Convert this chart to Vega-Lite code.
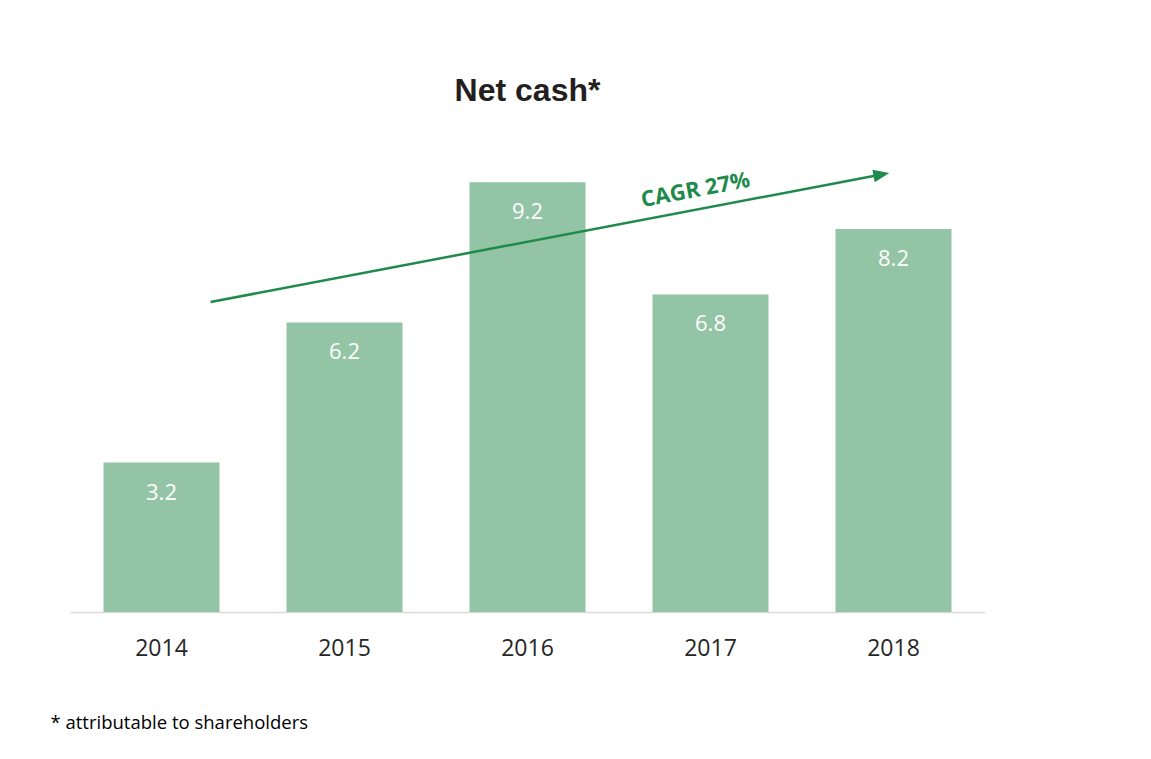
{
  "$schema": "https://vega.github.io/schema/vega-lite/v6.json",
  "autosize": "none",
  "width": 915,
  "height": 467,
  "padding": {"left": 70, "top": 145, "right": 166, "bottom": 147},
  "background": "white",
  "config": {"view": {"stroke": null}},
  "title": {
    "text": "Net cash*",
    "font": "Liberation Sans",
    "fontSize": 32,
    "fontWeight": "bold",
    "color": "#231f20",
    "anchor": "middle",
    "baseline": "alphabetic",
    "offset": 12
  },
  "datasets": {
    "bars": [
      {"year": "2014", "value": 3.2},
      {"year": "2015", "value": 6.2},
      {"year": "2016", "value": 9.2},
      {"year": "2017", "value": 6.8},
      {"year": "2018", "value": 8.2}
    ],
    "arrow": [
      {"px": 2014.268, "py": 6.638},
      {"px": 2017.934, "py": 9.368}
    ],
    "head": [{"px": 2017.934, "py": 9.368}],
    "label": [{"px": 2016.918, "py": 9.036, "text": "CAGR 27%"}]
  },
  "layer": [
    {
      "data": {"name": "bars"},
      "encoding": {
        "x": {
          "field": "year",
          "type": "ordinal",
          "scale": {"paddingInner": 0.366, "paddingOuter": 0.183},
          "axis": {
            "title": "* attributable to shareholders",
            "titleFont": "Open Sans",
            "titleFontSize": 18.5,
            "titleFontWeight": "normal",
            "titleColor": "#000000",
            "titleAnchor": "start",
            "titleAlign": "left",
            "titleBaseline": "middle",
            "titleX": -20,
            "titleY": 110,
            "labelFont": "Open Sans",
            "labelFontSize": 23,
            "labelColor": "#262626",
            "labelAngle": 0,
            "labelPadding": 25,
            "ticks": false,
            "domainColor": "#d9d9d9",
            "domainWidth": 1.5
          }
        },
        "y": {
          "field": "value",
          "type": "quantitative",
          "scale": {"domain": [0, 10], "nice": false},
          "axis": null
        }
      },
      "layer": [
        {"mark": {"type": "bar", "color": "#93c4a5"}},
        {
          "mark": {"type": "text", "color": "white", "font": "Open Sans", "fontSize": 22, "baseline": "middle", "dy": 30},
          "encoding": {"text": {"field": "value", "type": "quantitative", "format": ".1f"}}
        }
      ]
    },
    {
      "encoding": {
        "x": {"field": "px", "type": "quantitative", "scale": {"domain": [2013.5, 2018.5], "nice": false, "zero": false}, "axis": null},
        "y": {"field": "py", "type": "quantitative", "scale": {"domain": [0, 10], "nice": false}, "axis": null}
      },
      "layer": [
        {"data": {"name": "arrow"}, "mark": {"type": "line", "color": "#1e8a4b", "strokeWidth": 2.5}},
        {"data": {"name": "head"}, "mark": {"type": "point", "shape": "M1,0 L-1,-0.8 L-1,0.8 Z", "filled": true, "color": "#1e8a4b", "opacity": 1, "size": 256, "angle": -10.75}},
        {
          "data": {"name": "label"},
          "mark": {"type": "text", "color": "#1e8a4b", "font": "Open Sans", "fontWeight": "bold", "fontSize": 22, "angle": -10.75, "baseline": "middle", "align": "center"},
          "encoding": {"text": {"field": "text", "type": "nominal"}}
        }
      ]
    }
  ],
  "resolve": {"scale": {"x": "independent"}}
}
